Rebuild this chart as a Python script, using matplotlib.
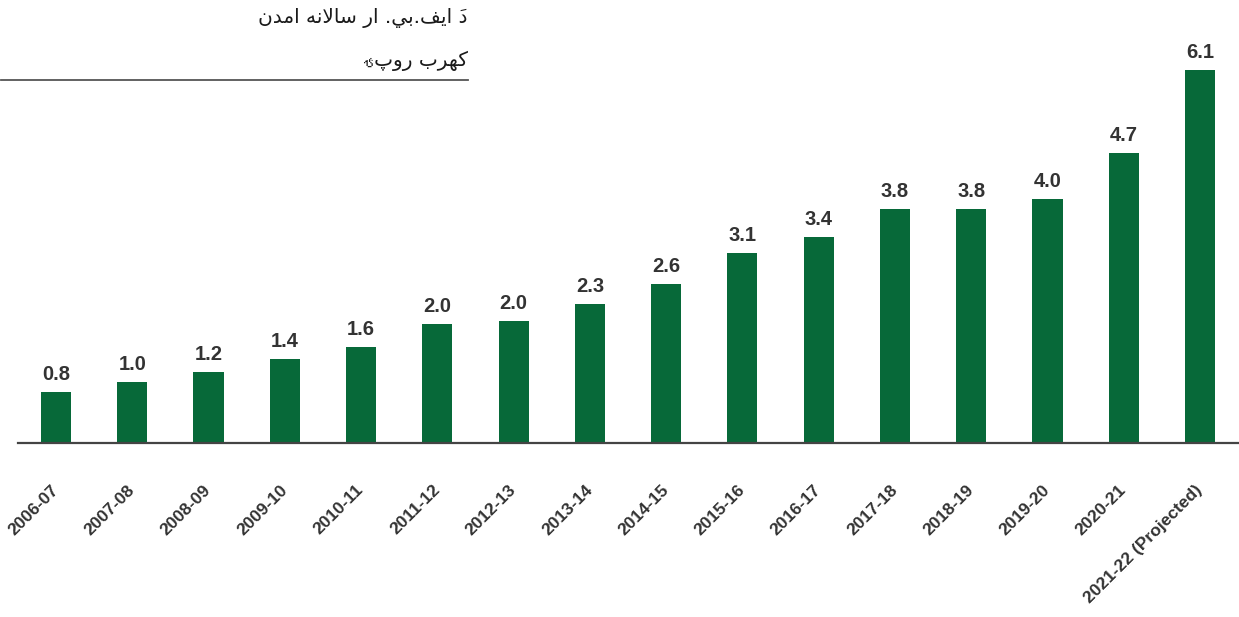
import matplotlib
matplotlib.use('Agg')
import matplotlib.pyplot as plt
from matplotlib.lines import Line2D
from matplotlib import font_manager
from matplotlib.ft2font import FT2Font

# ---------------- data ----------------
categories = ['2006-07', '2007-08', '2008-09', '2009-10', '2010-11', '2011-12',
              '2012-13', '2013-14', '2014-15', '2015-16', '2016-17', '2017-18',
              '2018-19', '2019-20', '2020-21', '2021-22 (Projected)']
values = [0.83, 1.00, 1.16, 1.37, 1.57, 1.95, 2.00, 2.27, 2.60, 3.11, 3.37,
          3.83, 3.82, 3.99, 4.75, 6.10]
value_labels = ['0.8', '1.0', '1.2', '1.4', '1.6', '2.0', '2.0', '2.3', '2.6',
                '3.1', '3.4', '3.8', '3.8', '4.0', '4.7', '6.1']
title_line1 = 'دَ ایف.بي. ار سالانه امدن'
title_line2 = 'کهرب روپۍ'


# ---------------- font lookup ----------------
def find_font_with(ch, skip=('DejaVu Sans',)):
    for f in font_manager.fontManager.ttflist:
        if f.name in skip:
            continue
        try:
            if ord(ch) in FT2Font(f.fname).get_charmap():
                return f.name
        except Exception:
            pass
    return None


tail_yeh_font = find_font_with('\u06CD')

# ---------------- simple Arabic shaping (matplotlib has no shaper) ----------------
LAMALEF = '\uFEFB'
FORMS = {  # isolated, final, initial, medial
    '\u0627': ('\uFE8D', '\uFE8E', None, None),
    '\u0628': ('\uFE8F', '\uFE90', '\uFE91', '\uFE92'),
    '\u067E': ('\uFB56', '\uFB57', '\uFB58', '\uFB59'),
    '\u062F': ('\uFEA9', '\uFEAA', None, None),
    '\u0631': ('\uFEAD', '\uFEAE', None, None),
    '\u0633': ('\uFEB1', '\uFEB2', '\uFEB3', '\uFEB4'),
    '\u0641': ('\uFED1', '\uFED2', '\uFED3', '\uFED4'),
    '\u06A9': ('\uFB8E', '\uFB8F', '\uFB90', '\uFB91'),
    '\u0644': ('\uFEDD', '\uFEDE', '\uFEDF', '\uFEE0'),
    '\u0645': ('\uFEE1', '\uFEE2', '\uFEE3', '\uFEE4'),
    '\u0646': ('\uFEE5', '\uFEE6', '\uFEE7', '\uFEE8'),
    '\u0647': ('\uFEE9', '\uFEEA', '\uFEEB', '\uFEEC'),
    '\u0648': ('\uFEED', '\uFEEE', None, None),
    '\u064A': ('\uFEF1', '\uFEF2', '\uFEF3', '\uFEF4'),
    '\u06CC': ('\uFBFC', '\uFBFD', '\uFBFE', '\uFBFF'),
    LAMALEF: ('\uFEFB', '\uFEFC', None, None),
}
if tail_yeh_font:
    FORMS['\u06CD'] = ('\u06CD', None, None, None)
else:
    # no installed face carries U+06CD: draw its joined (final) yeh shape
    FORMS['\u06CD'] = ('\uFEEF', '\uFEF0', None, None)


def is_mark(c):
    return '\u064B' <= c <= '\u065F' or c == '\u0670'


def shape_rtl(text):
    chars = list(text.replace('\u0644\u0627', LAMALEF))
    n = len(chars)
    out = []
    for i, c in enumerate(chars):
        if c not in FORMS:
            out.append(c)
            continue
        j = i - 1
        while j >= 0 and is_mark(chars[j]):
            j -= 1
        k = i + 1
        while k < n and is_mark(chars[k]):
            k += 1
        prev = chars[j] if j >= 0 else None
        nxt = chars[k] if k < n else None
        iso, fin, ini, med = FORMS[c]
        jp = prev in FORMS and FORMS[prev][2] is not None and fin is not None
        jn = ini is not None and nxt in FORMS and FORMS[nxt][1] is not None
        if jp and jn:
            out.append(med)
        elif jp:
            out.append(fin)
        elif jn:
            out.append(ini)
        else:
            out.append(iso)
    # clusters: marks placed before their base in visual (reversed) order
    clusters = []
    for c in out:
        if is_mark(c) and clusters:
            clusters[-1] = c + clusters[-1]
        else:
            clusters.append(c)
    return ''.join(reversed(clusters))


# ---------------- figure ----------------
W, H, DPI = 1239, 617, 100
fig = plt.figure(figsize=(W / DPI, H / DPI), dpi=DPI)
fig.patch.set_facecolor('white')

base_px = 443
top_px = 30
ax = fig.add_axes([18 / W, (H - base_px) / H, 1 - 18 / W, (base_px - top_px) / H])
px_per_unit = 373 / 6.1
ax.set_ylim(0, (base_px - top_px) / px_per_unit)
ax.set_xlim(-0.498, 15.511)

latin = ['Liberation Sans Narrow', 'Liberation Sans', 'DejaVu Sans']
bar_color = '#076939'
text_color = '#333333'

x = list(range(len(categories)))
ax.bar(x, values, width=0.395, color=bar_color, zorder=2)

for xi, v, lab in zip(x, values, value_labels):
    ax.annotate(lab, (xi, v), xytext=(0, 8.6), textcoords='offset points',
                ha='center', va='baseline', fontsize=14.5, fontweight='bold',
                color=text_color, family=latin)

for s in ['top', 'right', 'left']:
    ax.spines[s].set_visible(False)
ax.spines['bottom'].set_color('#444444')
ax.spines['bottom'].set_linewidth(1.6)
ax.set_yticks([])
ax.set_xticks(x)
ax.set_xticklabels(categories, rotation=45, ha='right', va='center',
                   rotation_mode='anchor', fontsize=12.5, fontweight='bold',
                   color=text_color, family=latin)
ax.tick_params(axis='x', length=0, pad=32)

# ---------------- title ----------------
arabic_family = ['DejaVu Sans'] + ([tail_yeh_font] if tail_yeh_font else [])
fig.text(468 / W, 1 - 18 / H, shape_rtl(title_line1), ha='right', va='center',
         fontsize=14.5, color='#1a1a1a', family=arabic_family)
fig.text(468 / W, 1 - 61 / H, shape_rtl(title_line2), ha='right', va='center',
         fontsize=14.5, color='#1a1a1a', family=arabic_family)
fig.add_artist(Line2D([1 / W, 468 / W], [1 - 80 / H, 1 - 80 / H],
                      color='#555555', lw=1.3, transform=fig.transFigure))

fig.savefig('out.png', dpi=DPI)
